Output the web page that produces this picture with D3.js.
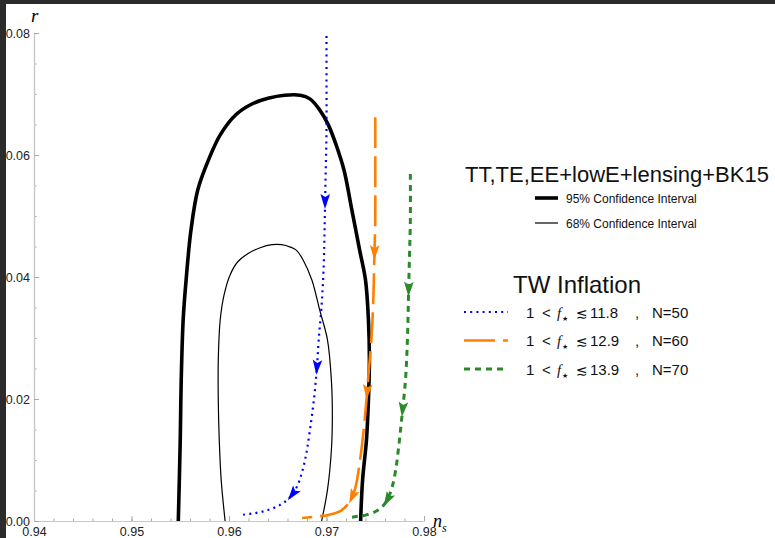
<!DOCTYPE html>
<html><head><meta charset="utf-8">
<script src="https://cdn.jsdelivr.net/npm/d3@7"></script>
<style>
html,body{margin:0;padding:0;background:#fff;}
svg{display:block;font-family:"Liberation Sans",Arial,sans-serif;}
</style></head>
<body>
<svg id="c" width="775" height="538"></svg>
<script>
// ---------- data ----------
const xTicks = [0.94, 0.95, 0.96, 0.97, 0.98];
const yTicks = [0.00, 0.02, 0.04, 0.06, 0.08];
const xMinorTicks = d3.range(0.94, 0.9801, 0.002);
const yMinorTicks = d3.range(0, 0.0801, 0.005);

// Planck contours [n_s, r]
const contour95 = [[0.9548,0],[0.9550,0.0133],[0.9551,0.0231],[0.9553,0.0330],[0.9556,0.0395],[0.9561,0.0477],[0.9568,0.0543],[0.9579,0.0592],[0.9591,0.0633],[0.9607,0.0666],[0.9624,0.0684],[0.9640,0.0693],[0.9657,0.0698],[0.9673,0.0698],[0.9683,0.0692],[0.9693,0.0674],[0.9702,0.0649],[0.9710,0.0616],[0.9718,0.0575],[0.9726,0.0510],[0.9734,0.0444],[0.9740,0.0395],[0.9743,0.0330],[0.9744,0.0264],[0.9743,0.0198],[0.9741,0.0133],[0.9737,0.0067],[0.9735,0]];
const contour68 = [[0.9596,0],[0.9592,0.0067],[0.9590,0.0133],[0.9589,0.0198],[0.9589,0.0264],[0.9591,0.0330],[0.9595,0.0371],[0.9601,0.0403],[0.9609,0.0425],[0.9620,0.0439],[0.9632,0.0448],[0.9644,0.0453],[0.9654,0.0453],[0.9663,0.0449],[0.9669,0.0444],[0.9676,0.0428],[0.9685,0.0395],[0.9693,0.0346],[0.9701,0.0297],[0.9705,0.0231],[0.9706,0.0171],[0.9705,0.0116],[0.9701,0.0051],[0.9695,0]];

// TW inflation trajectories [n_s, r]
const twN50 = [[0.9700,0.0795],[0.9700,0.0723],[0.9700,0.0641],[0.9699,0.0559],[0.9698,0.0477],[0.9697,0.0412],[0.9695,0.0354],[0.9692,0.0297],[0.9690,0.0248],[0.9687,0.0198],[0.9683,0.0149],[0.9679,0.0108],[0.9674,0.0075],[0.9669,0.0054],[0.9662,0.0038],[0.9652,0.0026],[0.9640,0.0018],[0.9627,0.0013],[0.9613,0.0010]];
const twN60 = [[0.9750,0.0662],[0.9750,0.0575],[0.9750,0.0493],[0.9749,0.0428],[0.9748,0.0362],[0.9746,0.0297],[0.9743,0.0239],[0.9741,0.0198],[0.9737,0.0133],[0.9733,0.0084],[0.9729,0.0051],[0.9723,0.0030],[0.9714,0.0016],[0.9702,0.0010],[0.9688,0.0007],[0.9675,0.0005]];
const twN70 = [[0.9786,0.0569],[0.9786,0.0493],[0.9785,0.0428],[0.9784,0.0362],[0.9783,0.0297],[0.9781,0.0231],[0.9777,0.0166],[0.9774,0.0121],[0.9771,0.0084],[0.9767,0.0054],[0.9761,0.0031],[0.9753,0.0018],[0.9741,0.0010],[0.9729,0.0007],[0.9721,0.0005]];

// r values where direction arrows sit
const arrowsN50 = [0.0523, 0.0251, 0.0043];
const arrowsN60 = [0.0439, 0.0211, 0.0039];
const arrowsN70 = [0.0379, 0.0182, 0.0034];

const seriesLabels = [
  {lo:"1", hi:"11.8", N:"N=50"},
  {lo:"1", hi:"12.9", N:"N=60"},
  {lo:"1", hi:"13.9", N:"N=70"}
];
const dataLegendTitle = "TT,TE,EE+lowE+lensing+BK15";
const ciLabels = ["95% Confidence Interval", "68% Confidence Interval"];
const modelTitle = "TW Inflation";

// ---------- drawing ----------
const svg = d3.select("#c");
const x = d3.scaleLinear().domain([0.94, 0.98]).range([34, 424]);
const y = d3.scaleLinear().domain([0, 0.08]).range([521, 33]);

// frame bits
svg.append("rect").attr("x",0).attr("y",0).attr("width",775).attr("height",4).attr("fill","#2b2b2b");
svg.append("rect").attr("x",0).attr("y",0).attr("width",6).attr("height",538).attr("fill","#2b2b2b");

// axes
const fmt = d3.format(".2f");
const gx = svg.append("g").attr("transform","translate(0,521)");
gx.call(d3.axisBottom(x).tickValues(xMinorTicks).tickSize(-2.5).tickSizeOuter(0).tickFormat(""));
const gx2 = svg.append("g").attr("transform","translate(0,521)");
gx2.call(d3.axisBottom(x).tickValues(xTicks).tickSize(-5).tickSizeOuter(0).tickPadding(6).tickFormat(fmt));
const gy = svg.append("g").attr("transform","translate(34,0)");
gy.call(d3.axisLeft(y).tickValues(yMinorTicks).tickSize(-2.5).tickSizeOuter(0).tickFormat(""));
const gy2 = svg.append("g").attr("transform","translate(34,0)");
gy2.call(d3.axisLeft(y).tickValues(yTicks).tickSize(-5).tickSizeOuter(0).tickPadding(4).tickFormat(fmt));
svg.selectAll(".domain").attr("stroke","#c8c8c8").attr("stroke-width",1.2);
svg.selectAll(".tick line").attr("stroke","#a8a8a8");
svg.selectAll(".tick text").attr("font-size",12.5).attr("fill","#222").attr("font-family","Liberation Sans, Arial, sans-serif");
gx2.selectAll(".tick text").attr("dy",null).attr("y",15);

// axis labels
svg.append("text").attr("x",31).attr("y",22).attr("font-size",19).attr("font-style","italic")
  .attr("font-family","Liberation Serif, Times New Roman, serif").text("r");
const nl = svg.append("text").attr("x",433).attr("y",527).attr("font-size",18).attr("font-style","italic")
  .attr("font-family","Liberation Serif, Times New Roman, serif");
nl.append("tspan").text("n");
nl.append("tspan").attr("font-size",12).attr("dy",5).text("s");

const line = d3.line().x(d=>x(d[0])).y(d=>y(d[1])).curve(d3.curveCatmullRom.alpha(0.5));

// contours
svg.append("path").datum(contour68).attr("d",line).attr("fill","none").attr("stroke","#000").attr("stroke-width",1.2);
svg.append("path").datum(contour95).attr("d",line).attr("fill","none").attr("stroke","#000").attr("stroke-width",3.6);

const series = [
  {data:twN50, arrows:arrowsN50, color:"#0000ff", dash:"2 4.2", w:2.2, cap:"butt"},
  {data:twN60, arrows:arrowsN60, color:"#ff8000", dash:"31 8", w:2.6, cap:"butt"},
  {data:twN70, arrows:arrowsN70, color:"#2a8a2a", dash:"6 5", w:3, cap:"butt"}
];

series.forEach(s=>{
  const p = svg.append("path").datum(s.data).attr("d",line).attr("fill","none")
    .attr("stroke",s.color).attr("stroke-width",s.w).attr("stroke-dasharray",s.dash).attr("stroke-linecap",s.cap);
  const node = p.node();
  const L = node.getTotalLength();
  s.arrows.forEach(rv=>{
    const ty = y(rv);
    let lo=0, hi=L;
    for(let i=0;i<40;i++){ const m=(lo+hi)/2; if(node.getPointAtLength(m).y<ty) lo=m; else hi=m; }
    const l0=(lo+hi)/2;
    const a=node.getPointAtLength(Math.max(0,l0-2)), b=node.getPointAtLength(Math.min(L,l0+2));
    const ang=Math.atan2(b.y-a.y,b.x-a.x)*180/Math.PI;
    const c=node.getPointAtLength(l0);
    svg.append("path").attr("d","M7,0 L-8,-4.8 L-5,0 L-8,4.8 Z").attr("fill",s.color)
      .attr("transform",`translate(${c.x},${c.y}) rotate(${ang})`);
  });
});

// legend: data
svg.append("text").attr("x",617).attr("y",182).attr("text-anchor","middle").attr("font-size",22).attr("fill","#111").text(dataLegendTitle);
[[3.6,198,203],[1.2,223,228]].forEach((v,i)=>{
  svg.append("line").attr("x1",535).attr("x2",558).attr("y1",v[1]).attr("y2",v[1]).attr("stroke","#000").attr("stroke-width",v[0]);
  svg.append("text").attr("x",566).attr("y",v[2]).attr("font-size",12).attr("fill","#111").text(ciLabels[i]);
});

// legend: model
svg.append("text").attr("x",513).attr("y",293).attr("font-size",24).attr("fill","#111").text(modelTitle);
series.forEach((s,i)=>{
  const ly = 312 + i*28.5;
  svg.append("line").attr("x1",464).attr("x2",508).attr("y1",ly).attr("y2",ly)
    .attr("stroke",s.color).attr("stroke-width",s.w).attr("stroke-dasharray",s.dash);
  const by = ly+5.5;
  const lab = seriesLabels[i];
  const g = svg.append("g").attr("font-size",15).attr("fill","#111");
  g.append("text").attr("x",526).attr("y",by).text(lab.lo);
  g.append("text").attr("x",542).attr("y",by).text("<");
  g.append("text").attr("x",557).attr("y",by).attr("font-style","italic").attr("font-family","Liberation Serif, serif").text("f");
  g.append("text").attr("x",562).attr("y",by+3).attr("font-size",7).attr("font-family","DejaVu Sans, sans-serif").text("★");
  g.append("text").attr("x",576).attr("y",by).attr("font-family","DejaVu Sans, sans-serif").attr("font-size",14).text("≲");
  g.append("text").attr("x",590).attr("y",by).text(lab.hi);
  g.append("text").attr("x",635).attr("y",by).text(",");
  g.append("text").attr("x",652).attr("y",by).text(lab.N);
});
</script>
</body></html>
